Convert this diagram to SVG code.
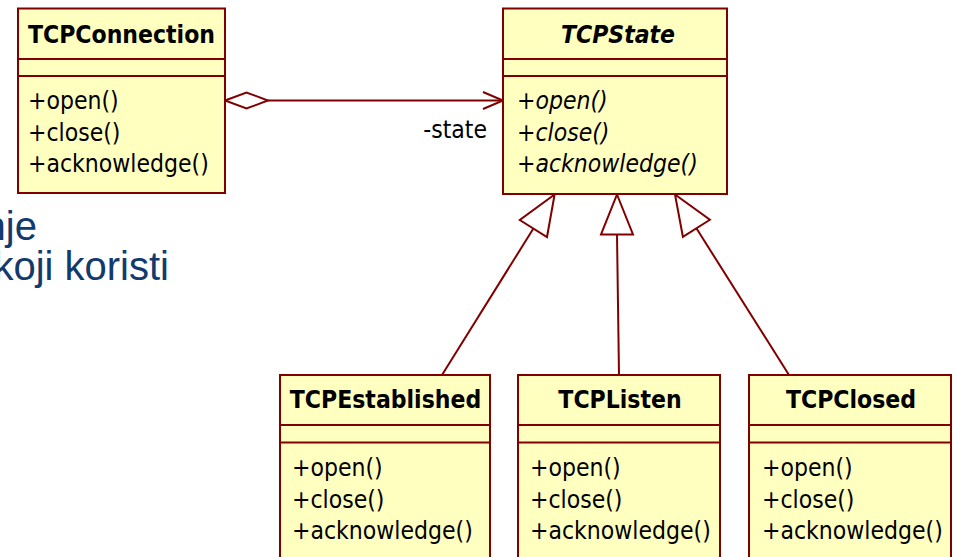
<svg xmlns="http://www.w3.org/2000/svg" width="958" height="557" viewBox="0 0 958 557">
<style>
.box{fill:#FFFFC0;stroke:#800000;stroke-width:2}
.div{stroke:#800000;stroke-width:2}
.ln{stroke:#800000;stroke-width:2;fill:none}
.tri{stroke:#800000;stroke-width:2;fill:#FFFFFF}
.t{font-family:"DejaVu Sans Condensed","DejaVu Sans",sans-serif;font-stretch:condensed;font-size:24.5px;fill:#000}
.b{font-weight:bold}
.i{font-style:italic}
.bl{font-family:"Liberation Sans",Arial,sans-serif;font-size:40px;fill:#123a6c}
</style>
<rect width="958" height="557" fill="#FFFFFF"/>
<g id="bgtext">
<text class="bl" x="37" y="240" text-anchor="end">nje</text>
<text class="bl" x="169" y="280" text-anchor="end">koji koristi</text>
</g>
<g id="connectors">
<line class="ln" x1="268" y1="100.5" x2="503" y2="100.5"/>
<polygon class="tri" points="225,100.5 246.5,92.5 268,100.5 246.5,108.5"/>
<polyline class="ln" points="483,92 503,100.5 483,109"/>
<line class="ln" x1="442" y1="375" x2="533.4" y2="228.5"/>
<polygon class="tri" points="554.6,194.5 547,237 519.8,220"/>
<line class="ln" x1="619" y1="375" x2="617" y2="234.5"/>
<polygon class="tri" points="617,194.5 633,234.5 601,234.5"/>
<line class="ln" x1="789" y1="375" x2="696.4" y2="228.3"/>
<polygon class="tri" points="675,194.5 709.9,219.8 682.9,236.8"/>
<text class="t" x="487" y="138" text-anchor="end">-state</text>
</g>
<g id="TCPConnection">
<rect class="box" x="18" y="8.5" width="207" height="184.5"/>
<line class="div" x1="18" y1="59" x2="225" y2="59"/>
<line class="div" x1="18" y1="76" x2="225" y2="76"/>
<text class="t b" x="121.5" y="42.5" text-anchor="middle">TCPConnection</text>
<text class="t" x="28" y="109">+open()</text>
<text class="t" x="28" y="140.5">+close()</text>
<text class="t" x="28" y="172">+acknowledge()</text>
</g>
<g id="TCPState">
<rect class="box" x="503" y="8.5" width="224" height="185.5"/>
<line class="div" x1="503" y1="59" x2="727" y2="59"/>
<line class="div" x1="503" y1="76" x2="727" y2="76"/>
<text class="t b i" x="618" y="42.5" text-anchor="middle">TCPState</text>
<text class="t i" x="517" y="109">+open()</text>
<text class="t i" x="517" y="140.5">+close()</text>
<text class="t i" x="517" y="172">+acknowledge()</text>
</g>
<g id="TCPEstablished">
<rect class="box" x="280" y="375" width="210" height="195"/>
<line class="div" x1="280" y1="425" x2="490" y2="425"/>
<line class="div" x1="280" y1="442.5" x2="490" y2="442.5"/>
<text class="t b" x="385.5" y="408" text-anchor="middle">TCPEstablished</text>
<text class="t" x="292" y="476">+open()</text>
<text class="t" x="292" y="507.5">+close()</text>
<text class="t" x="292" y="539">+acknowledge()</text>
</g>
<g id="TCPListen">
<rect class="box" x="518" y="375" width="202" height="195"/>
<line class="div" x1="518" y1="425" x2="720" y2="425"/>
<line class="div" x1="518" y1="442.5" x2="720" y2="442.5"/>
<text class="t b" x="620" y="408" text-anchor="middle">TCPListen</text>
<text class="t" x="530" y="476">+open()</text>
<text class="t" x="530" y="507.5">+close()</text>
<text class="t" x="530" y="539">+acknowledge()</text>
</g>
<g id="TCPClosed">
<rect class="box" x="749" y="375" width="202" height="195"/>
<line class="div" x1="749" y1="425" x2="951" y2="425"/>
<line class="div" x1="749" y1="442.5" x2="951" y2="442.5"/>
<text class="t b" x="851" y="408" text-anchor="middle">TCPClosed</text>
<text class="t" x="762" y="476">+open()</text>
<text class="t" x="762" y="507.5">+close()</text>
<text class="t" x="762" y="539">+acknowledge()</text>
</g>
</svg>
